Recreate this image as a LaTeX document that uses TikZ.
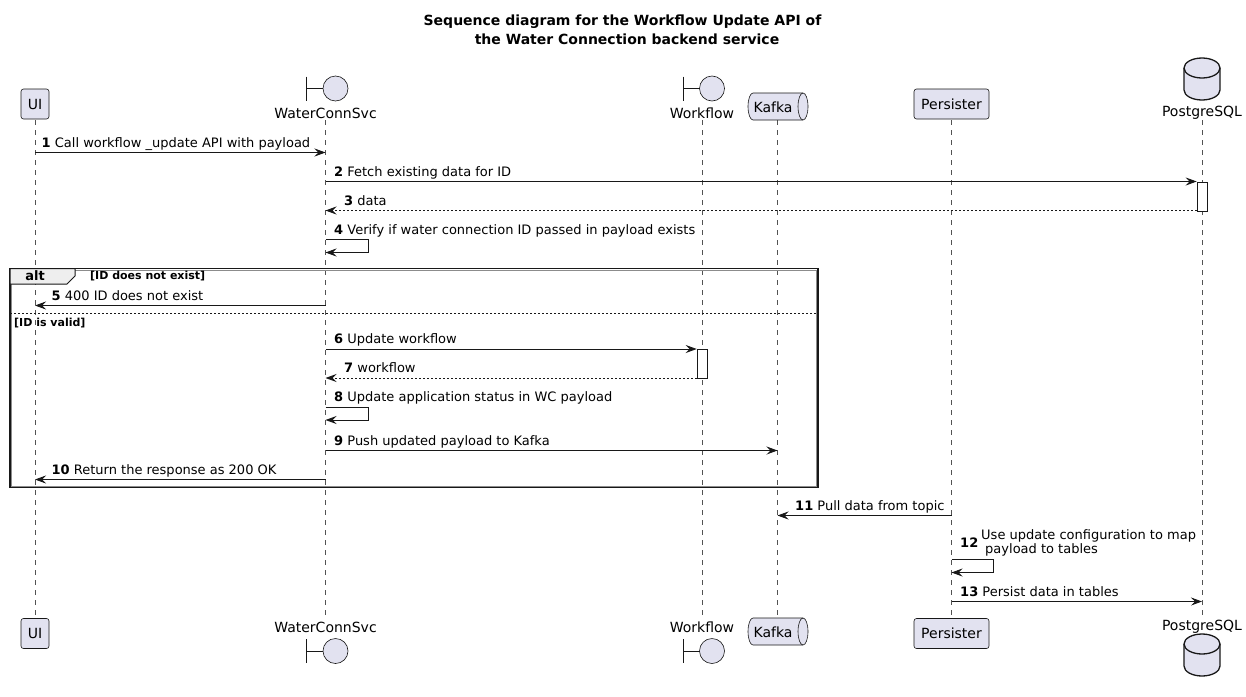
\documentclass[tikz,border=0pt]{standalone}
\usepackage{fontspec}
\setmainfont{DejaVu Sans}
\usetikzlibrary{arrows.meta}
\definecolor{pfill}{HTML}{E2E2F0}
\definecolor{pline}{HTML}{181818}
\definecolor{tabfill}{HTML}{EEEEEE}
\begin{document}
\begin{tikzpicture}[x=1pt,y=-1pt,
  pbox/.style={draw=pline, fill=pfill, line width=0.6pt, rounded corners=2.5pt,
    font=\fontsize{14}{16}\selectfont, inner sep=0pt, minimum height=30pt},
  plabel/.style={font=\fontsize{14}{16}\selectfont, inner sep=0pt},
  life/.style={draw=pline!75, line width=0.6pt, dash pattern=on 5pt off 5pt},
  msg/.style={draw=pline, line width=0.9pt, -{Stealth[length=11pt,width=8pt,inset=4pt]}},
  ret/.style={msg, dash pattern=on 2pt off 2pt},
  mtext/.style={font=\fontsize{13}{15}\selectfont, anchor=base west, inner sep=0pt},
  icon/.style={draw=pline, fill=pfill, line width=0.6pt},
  dbicon/.style={draw=pline, fill=pfill, line width=1.3pt},
  act/.style={draw=pline, fill=white, line width=0.6pt},
  frameline/.style={draw=pline, line width=1.3pt},
  frameshade/.style={draw=black!45, line width=0.8pt},
  cond/.style={font=\bfseries\fontsize{11}{13}\selectfont, anchor=base west, inner sep=0pt},
  ttl/.style={font=\bfseries\fontsize{14}{16}\selectfont, inner sep=0pt}
]
\useasboundingbox[fill=white] (0,0) rectangle (1246,696);

% lifeline x positions
\def\xUI{35}
\def\xWC{325.5}
\def\xWF{702}
\def\xKF{777.5}
\def\xPR{951.5}
\def\xPG{1202}

% title
\node[ttl] (title1) at (622.5,22) {Sequence diagram for the Workflow Update API of};
\node[ttl] (title2) at (627,39.5) {the Water Connection backend service};

% lifelines
\foreach \x/\n in {\xUI/ui,\xWC/wc,\xWF/wf,\xKF/kf,\xPR/pr,\xPG/pg}{
  \coordinate (\n top) at (\x,120);
  \coordinate (\n bot) at (\x,619);
  \draw[life] (\n top) -- (\n bot);
}

% ---------- top participants ----------
\node[pbox, minimum width=28pt] (uiT) at (\xUI,104) {UI};
\node[pbox, minimum width=75pt] (prT) at (\xPR,104) {Persister};
% boundary WaterConnSvc
\draw[icon] (\xWC+10,88.5) circle[radius=12.5];
\draw[icon] (\xWC-19,76.5) -- (\xWC-19,100.5) (\xWC-19,88.5) -- (\xWC-2.5,88.5);
\node[plabel] (wcT) at (\xWC,113) {WaterConnSvc};
% boundary Workflow
\draw[icon] (\xWF+10,88.5) circle[radius=12.5];
\draw[icon] (\xWF-19,76.5) -- (\xWF-19,100.5) (\xWF-19,88.5) -- (\xWF-2.5,88.5);
\node[plabel] (wfT) at (\xWF,113) {Workflow};
% queue Kafka
\draw[icon] (753,93) -- (803,93) arc[start angle=-90,end angle=90,x radius=5,y radius=13.5]
  -- (753,120) arc[start angle=90,end angle=270,x radius=5,y radius=13.5] -- cycle;
\draw[icon, fill=none] (803,93) arc[start angle=-90,end angle=-270,x radius=5,y radius=13.5];
\node[plabel] (kfT) at (773,107.5) {Kafka};
% database PostgreSQL
\draw[dbicon] (\xPG-18,68) arc[start angle=180,end angle=360,x radius=18,y radius=10]
  -- (\xPG+18,90) arc[start angle=0,end angle=180,x radius=18,y radius=10] -- cycle;
\draw[dbicon, fill=none] (\xPG-18,68) arc[start angle=180,end angle=0,x radius=18,y radius=10];
\node[plabel] (pgT) at (\xPG,113) {PostgreSQL};

% ---------- bottom participants ----------
\node[pbox, minimum width=28pt] (uiB) at (\xUI,633.5) {UI};
\node[pbox, minimum width=75pt] (prB) at (\xPR,633.5) {Persister};
\node[plabel] (wcB) at (\xWC,627) {WaterConnSvc};
\draw[icon] (\xWC+10,651) circle[radius=12.5];
\draw[icon] (\xWC-19,639) -- (\xWC-19,663) (\xWC-19,651) -- (\xWC-2.5,651);
\node[plabel] (wfB) at (\xWF,627) {Workflow};
\draw[icon] (\xWF+10,651) circle[radius=12.5];
\draw[icon] (\xWF-19,639) -- (\xWF-19,663) (\xWF-19,651) -- (\xWF-2.5,651);
\draw[icon] (753,618) -- (803,618) arc[start angle=-90,end angle=90,x radius=5,y radius=13.5]
  -- (753,645) arc[start angle=90,end angle=270,x radius=5,y radius=13.5] -- cycle;
\draw[icon, fill=none] (803,618) arc[start angle=-90,end angle=-270,x radius=5,y radius=13.5];
\node[plabel] (kfB) at (773,632.5) {Kafka};
\node[plabel] (pgB) at (\xPG,627) {PostgreSQL};
\draw[dbicon] (\xPG-18,644) arc[start angle=180,end angle=360,x radius=18,y radius=10]
  -- (\xPG+18,666) arc[start angle=0,end angle=180,x radius=18,y radius=10] -- cycle;
\draw[dbicon, fill=none] (\xPG-18,644) arc[start angle=180,end angle=0,x radius=18,y radius=10];

% activation bars
\node[act, minimum width=10pt, minimum height=29pt, inner sep=0pt, anchor=north] (pgAct) at (\xPG,181.5) {};
\node[act, minimum width=10pt, minimum height=29pt, inner sep=0pt, anchor=north] (wfAct) at (\xWF,349) {};

% ---------- messages ----------
% 1
\coordinate (m1s) at (\xUI,152.5); \coordinate (m1e) at (\xWC,152.5);
\draw[msg] (m1s) -- (m1e);
\node[mtext] (t1) at (41.5,147) {\textbf{1} Call workflow \_update API with payload};
% 2
\coordinate (m2s) at (\xWC,181.5);
\draw[msg] (m2s) -- (m2s -| pgAct.west);
\node[mtext] (t2) at (334,176) {\textbf{2} Fetch existing data for ID};
% 3
\coordinate (m3e) at (\xWC,210.5);
\draw[ret] (m3e -| pgAct.west) -- (m3e);
\node[mtext] (t3) at (344,205) {\textbf{3} data};
% 4 self
\coordinate (m4a) at (\xWC,239.5); \coordinate (m4b) at (368.5,239.5);
\coordinate (m4c) at (368.5,252.5); \coordinate (m4d) at (\xWC,252.5);
\draw[msg] (m4a) -- (m4b) -- (m4c) -- (m4d);
\node[mtext] (t4) at (334,234) {\textbf{4} Verify if water connection ID passed in payload exists};

% alt frame
\coordinate (fTL) at (10,268.5); \coordinate (fBR) at (818,487.5);
\draw[frameshade] (11.6,270.1) rectangle (816.4,485.9);
\draw[frameline] (fTL) rectangle (fBR);
\draw[draw=pline, fill=tabfill, line width=1pt] (10,268.5) -- (75,268.5) -- (75,276) -- (67,284) -- (10,284) -- cycle;
\node[font=\bfseries\fontsize{13}{15}\selectfont, inner sep=0pt] (altlbl) at (35,276) {alt};
\node[cond] (c1) at (90,279.5) {[ID does not exist]};
\coordinate (sepL) at (10,313.5); \coordinate (sepR) at (818,313.5);
\draw[draw=pline, line width=0.8pt, dash pattern=on 2pt off 2pt] (sepL) -- (sepR);
\node[cond] (c2) at (14,326) {[ID is valid]};

% 5
\coordinate (m5s) at (\xWC,305.5); \coordinate (m5e) at (\xUI,305.5);
\draw[msg] (m5s) -- (m5e);
\node[mtext] (t5) at (51.5,300) {\textbf{5} 400 ID does not exist};
% 6
\coordinate (m6s) at (\xWC,349);
\draw[msg] (m6s) -- (m6s -| wfAct.west);
\node[mtext] (t6) at (334,343.5) {\textbf{6} Update workflow};
% 7
\coordinate (m7e) at (\xWC,378);
\draw[ret] (m7e -| wfAct.west) -- (m7e);
\node[mtext] (t7) at (344,372.5) {\textbf{7} workflow};
% 8 self
\coordinate (m8a) at (\xWC,407); \coordinate (m8b) at (368.5,407);
\coordinate (m8c) at (368.5,420); \coordinate (m8d) at (\xWC,420);
\draw[msg] (m8a) -- (m8b) -- (m8c) -- (m8d);
\node[mtext] (t8) at (334,401.5) {\textbf{8} Update application status in WC payload};
% 9
\coordinate (m9s) at (\xWC,450.5); \coordinate (m9e) at (\xKF,450.5);
\draw[msg] (m9s) -- (m9e);
\node[mtext] (t9) at (334,445) {\textbf{9} Push updated payload to Kafka};
% 10
\coordinate (m10s) at (\xWC,479.5); \coordinate (m10e) at (\xUI,479.5);
\draw[msg] (m10s) -- (m10e);
\node[mtext] (t10) at (51.5,474) {\textbf{10} Return the response as 200 OK};
% 11
\coordinate (m11s) at (\xPR,515.5); \coordinate (m11e) at (\xKF,515.5);
\draw[msg] (m11s) -- (m11e);
\node[mtext] (t11) at (795,510) {\textbf{11} Pull data from topic};
% 12 self
\coordinate (m12a) at (\xPR,559.5); \coordinate (m12b) at (993,559.5);
\coordinate (m12c) at (993,572.5); \coordinate (m12d) at (\xPR,572.5);
\draw[msg] (m12a) -- (m12b) -- (m12c) -- (m12d);
\node[mtext] (t12n) at (960,547) {\textbf{12}};
\node[mtext] (t12a) at (981,539) {Use update configuration to map};
\node[mtext] (t12b) at (985,553.5) {payload to tables};
% 13
\coordinate (m13s) at (\xPR,601.5); \coordinate (m13e) at (\xPG,601.5);
\draw[msg] (m13s) -- (m13e);
\node[mtext] (t13) at (960,596) {\textbf{13} Persist data in tables};

\end{tikzpicture}
\end{document}
